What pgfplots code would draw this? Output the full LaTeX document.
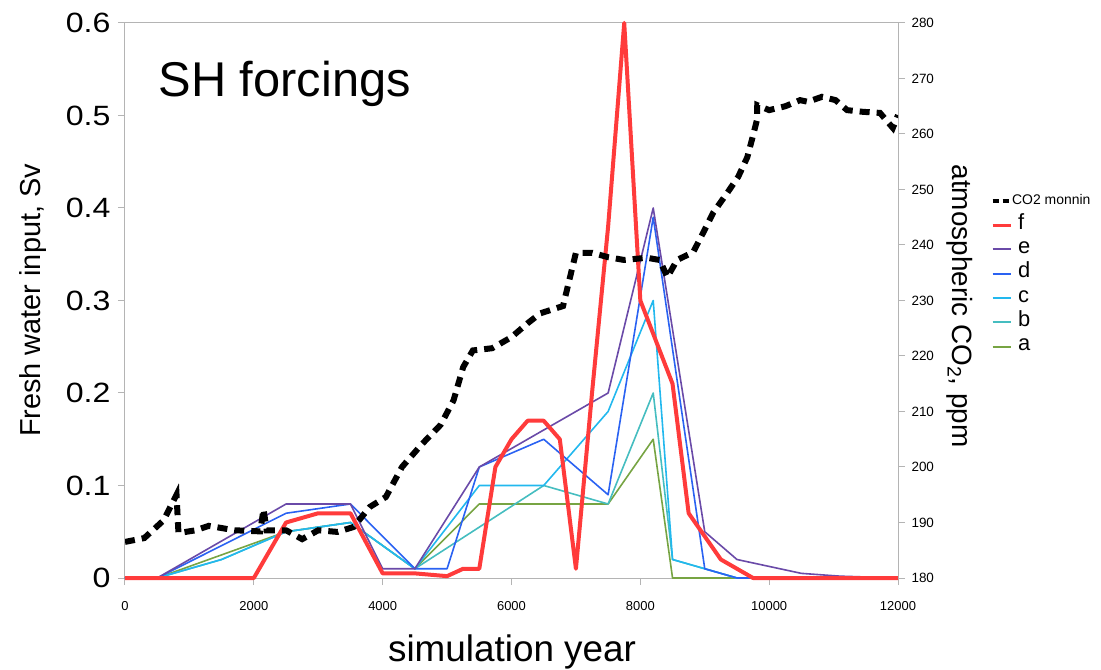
\documentclass[border=0pt]{standalone}
\usepackage{pgfplots}
\pgfplotsset{compat=1.18}
\usepackage{fontspec}
\setmainfont{Liberation Sans}

\definecolor{cf}{HTML}{FF3B3B}
\definecolor{ce}{HTML}{6A4AA8}
\definecolor{cd}{HTML}{2A62F2}
\definecolor{cc}{HTML}{22B8EE}
\definecolor{cb}{HTML}{45BDC0}
\definecolor{ca}{HTML}{77A443}
\definecolor{framegray}{HTML}{B4B4B4}

\pgfplotsset{
  base/.style={
    scale only axis, width=773bp, height=555bp,
    at={(0,0)}, anchor=south west,
    xmin=0, xmax=12000,
    /pgf/number format/assume math mode=true,
    /pgf/number format/1000 sep={},
    scaled ticks=false,
    tick align=outside,
    major tick length=7bp,
    tick style={framegray, line width=1bp},
    axis line style={framegray, line width=1bp},
  },
  thin/.style={line width=1.6bp, line join=round},
}

\begin{document}
\begin{tikzpicture}
\useasboundingbox (-125bp,-92bp) rectangle (976bp,578bp);

% fresh water forcings (left axis)
\begin{axis}[base,
  ymin=0, ymax=0.6,
  xtick={0,2000,...,12000}, ytick={0,0.1,...,0.6},
  xtick pos=bottom, ytick pos=left,
  clip=false,
  yticklabel style={font=\fontsize{28}{28}\selectfont, xscale=1.15, xshift=-3bp,
    /pgf/number format/fixed, /pgf/number format/precision=1},
  xticklabel style={font=\fontsize{13}{13}\selectfont, yshift=-13bp},
  xlabel={simulation year},
  ylabel={Fresh water input, Sv},
  xlabel style={font=\fontsize{37}{37}\selectfont,
    at={(axis description cs:0.5007,-0.133)}, anchor=center},
  ylabel style={font=\fontsize{29}{29}\selectfont,
    at={(axis description cs:-0.119,0.5)}, anchor=center},
]
\addplot[ca, thin] coordinates {
  (0,0)(500,0)(2500,0.05)(3500,0.06)(4500,0.01)(5500,0.08)(7500,0.08)
  (8200,0.15)(8500,0)(12000,0)};
\addplot[cb, thin] coordinates {
  (0,0)(500,0)(1500,0.02)(2500,0.05)(3500,0.06)(4500,0.01)(6500,0.1)
  (7500,0.08)(8200,0.2)(8500,0.02)(9500,0)(12000,0)};
\addplot[cc, thin] coordinates {
  (0,0)(500,0)(1500,0.02)(2500,0.05)(3500,0.06)(4500,0.01)(5500,0.1)
  (6500,0.1)(7500,0.18)(8200,0.3)(8500,0.02)(9500,0)(12000,0)};
\addplot[cd, thin] coordinates {
  (0,0)(500,0)(2500,0.07)(3500,0.08)(4500,0.01)(5000,0.01)(5500,0.12)
  (6500,0.15)(7500,0.09)(8200,0.39)(9000,0.01)(9500,0)(12000,0)};
\addplot[ce, thin] coordinates {
  (0,0)(500,0)(2500,0.08)(3500,0.08)(4000,0.01)(4500,0.01)(5500,0.12)
  (7500,0.2)(8200,0.4)(9000,0.05)(9500,0.02)(10500,0.005)(11100,0.002)(12000,0)};
\addplot[cf, line width=4bp, line join=round] coordinates {
  (0,0)(2000,0)(2500,0.06)(3000,0.07)(3500,0.07)(4000,0.005)(4500,0.005)
  (5000,0.002)(5250,0.01)(5500,0.01)(5750,0.12)(6000,0.15)(6250,0.17)
  (6500,0.17)(6750,0.15)(7000,0.01)(7250,0.2)(7500,0.38)(7750,0.6)
  (8000,0.3)(8500,0.21)(8750,0.07)(9250,0.02)(9750,0)(12000,0)};
\node[anchor=base west, font=\fontsize{49}{49}\selectfont]
  at (rel axis cs:0.039,0.867) {SH forcings};
\end{axis}

% CO2 (right axis)
\begin{axis}[base,
  ymin=180, ymax=280, ytick={180,190,...,280},
  axis x line=none, axis y line*=right,
  yticklabel style={font=\fontsize{13.5}{13.5}\selectfont, xshift=3bp},
  ylabel={atmospheric CO\textsubscript{2}, ppm},
  ylabel style={font=\fontsize{28}{28}\selectfont,
    at={(axis description cs:1.080,0.49)}, anchor=center, rotate=180},
  legend style={at={(1.116,0.698)}, anchor=north west, draw=none, fill=none,
    row sep=8.3bp, nodes={inner sep=0bp, text height=12bp, text depth=4bp}},
  legend cell align=left,
  legend image code/.code={\draw[#1] (0bp,0bp) -- (18bp,0bp);},
]
\addplot[black, line width=6bp, dash pattern=on 10bp off 7bp,
  legend image code/.code={\draw[black, line width=3.5bp,
    dash pattern=on 6bp off 4bp] (0bp,0bp) -- (17bp,0bp);}] coordinates {
  (0,186.5)(300,187.2)(600,190.4)(800,195.0)(830,188.1)(1100,188.6)
  (1300,189.4)(1700,188.6)(2100,188.4)(2150,192.4)(2200,188.6)(2500,188.6)
  (2750,187.0)(3000,188.6)(3300,188.3)(3550,189.2)(3800,192.8)(4050,194.6)
  (4300,200.0)(4600,204.0)(4900,207.6)(5100,212.0)(5250,218.0)(5400,221.0)
  (5700,221.4)(6000,223.4)(6250,225.9)(6450,227.7)(6800,229.0)(7000,238.6)
  (7250,238.6)(7500,237.8)(7750,237.3)(8100,237.7)(8300,237.3)(8420,234.2)
  (8570,237.3)(8820,238.7)(8975,242.2)(9130,245.8)(9350,249.4)(9520,252.3)
  (9660,255.8)(9740,259.3)(9810,262.5)(9815,265.2)(10000,264.3)(10250,265.0)
  (10480,266.1)(10600,265.8)(10820,266.7)(11030,266.1)(11210,264.3)
  (11450,264.0)(11720,263.8)(11920,261.1)(12000,263.4)};
\addlegendentry{\fontsize{14}{14}\selectfont CO2 monnin}
\addlegendimage{cf, line width=3bp}
\addlegendentry{\fontsize{22}{22}\selectfont\hspace{6bp}f}
\addlegendimage{ce, line width=2bp}
\addlegendentry{\fontsize{22}{22}\selectfont\hspace{6bp}e}
\addlegendimage{cd, line width=2bp}
\addlegendentry{\fontsize{22}{22}\selectfont\hspace{6bp}d}
\addlegendimage{cc, line width=2bp}
\addlegendentry{\fontsize{22}{22}\selectfont\hspace{6bp}c}
\addlegendimage{cb, line width=2bp}
\addlegendentry{\fontsize{22}{22}\selectfont\hspace{6bp}b}
\addlegendimage{ca, line width=2bp}
\addlegendentry{\fontsize{22}{22}\selectfont\hspace{6bp}a}
\end{axis}
\end{tikzpicture}
\end{document}
